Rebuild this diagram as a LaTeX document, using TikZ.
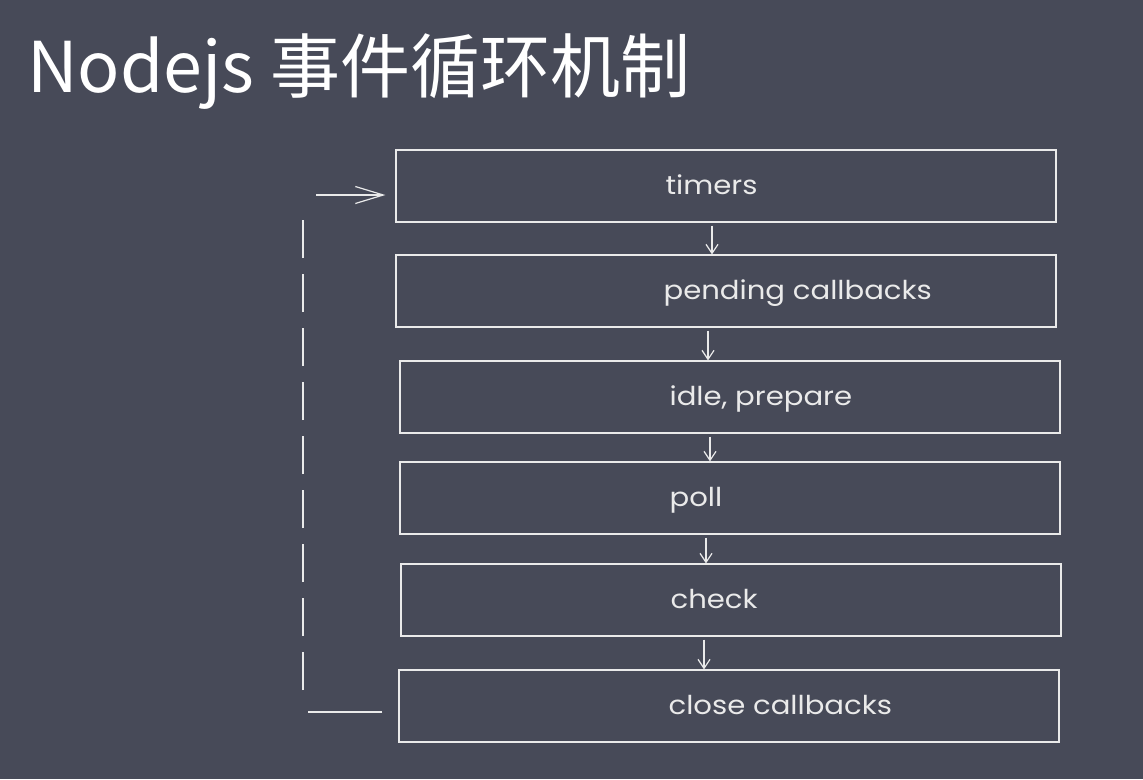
\documentclass[tikz,border=0pt]{standalone}
\usepackage{fontspec}
\setmainfont{Noto Sans CJK SC}
\newfontfamily\handfont[FakeStretch=1.12]{Poppins}
\usetikzlibrary{arrows.meta}

\definecolor{slate}{RGB}{71,74,88}
\definecolor{chalk}{RGB}{234,234,234}

\tikzset{
  phase/.style={draw=chalk, line width=1.2pt, minimum width=660pt, minimum height=72pt, inner sep=0pt},
  phase text/.style={anchor=base west, inner sep=0pt, text=chalk, font=\handfont\fontsize{26}{30}\selectfont},
  flow/.style={draw=chalk, line width=1.2pt, -{Straight Barb[length=9pt,width=12pt]}, shorten <=3pt},
  loop line/.style={draw=chalk, line width=1.2pt},
}

\begin{document}
\begin{tikzpicture}[x=1pt,y=-1pt]
        \fill[slate] (0,0) rectangle (1143,779);
        \useasboundingbox (0,0) rectangle (1143,779);

        \node[anchor=base west, inner sep=0pt, text=white, font=\fontsize{70}{84}\selectfont] (title) at (27,92) {Nodejs 事件循环机制};

        % phases
        \node[phase] (timers) at (726,186) {};
        \node[phase] (pending) at (726,291) {};
        \node[phase] (idle) at (730,397) {};
        \node[phase] (poll) at (730,498) {};
        \node[phase] (check) at (731,600) {};
        \node[phase] (close) at (729,706) {};

        \node[phase text] (timers text) at ([shift={(270pt,-8pt)}]timers.west) {timers};
        \node[phase text] (pending text) at ([shift={(268pt,-8pt)}]pending.west) {pending callbacks};
        \node[phase text] (idle text) at ([shift={(270pt,-8pt)}]idle.west) {idle, prepare};
        \node[phase text] (poll text) at ([shift={(270pt,-8pt)}]poll.west) {poll};
        \node[phase text] (check text) at ([shift={(270pt,-8pt)}]check.west) {check};
        \node[phase text] (close text) at ([shift={(270pt,-8pt)}]close.west) {close callbacks};

        % timers to pending callbacks
        \draw[flow] ([xshift=-14pt]timers.south) -- ([xshift=-14pt]pending.north);

        % pending callbacks to idle, prepare
        \draw[flow] ([xshift=-18pt]pending.south) -- ([xshift=-22pt]idle.north);

        % idle, prepare to poll
        \draw[flow] ([xshift=-20pt]idle.south) -- ([xshift=-20pt]poll.north);

        % poll to check
        \draw[flow] ([xshift=-24pt]poll.south) -- ([xshift=-25pt]check.north);

        % check to close callbacks
        \draw[flow] ([xshift=-27pt]check.south) -- ([xshift=-25pt]close.north);

        % close callbacks back to timers
        \coordinate (loop bottom) at (308,712);
        \coordinate (dash low) at (303,690);
        \coordinate (dash high) at (303,212);
        \coordinate (loop top) at (316,195);
        \draw[loop line] ([shift={(-16pt,-6pt)}]close.west) -- (loop bottom);
        \draw[loop line, dash pattern=on 38pt off 16pt] (dash low) -- (dash high);
        \draw[loop line, -{Straight Barb[length=28pt,width=17pt]}] (loop top) -- ([shift={(-10pt,-9pt)}]timers.west);

\end{tikzpicture}
\end{document}
